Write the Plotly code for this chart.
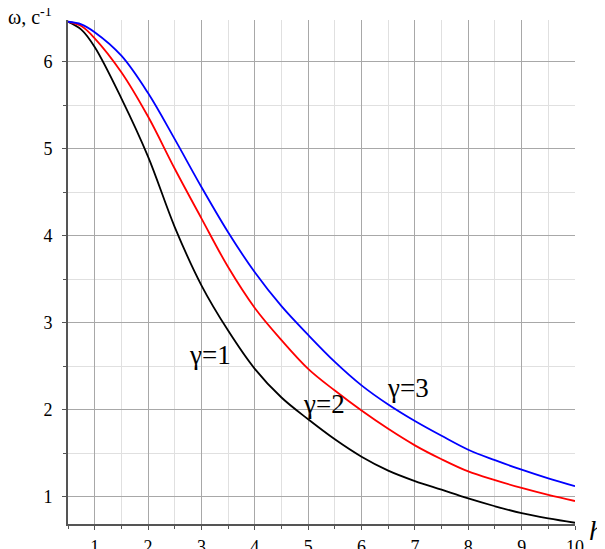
import plotly.graph_objects as go

# h values and omega for each gamma
h = [0.5, 0.75, 1.0, 1.5, 2.0, 2.5, 3.0, 3.5, 4.0, 4.5, 5.0,
     5.5, 6.0, 6.5, 7.0, 7.5, 8.0, 8.5, 9.0, 9.5, 10.0]
w_g1 = [6.46, 6.37, 6.17, 5.58, 4.91, 4.10, 3.43, 2.91, 2.47, 2.14, 1.89,
        1.66, 1.46, 1.30, 1.18, 1.08, 0.98, 0.89, 0.81, 0.75, 0.70]
w_g2 = [6.46, 6.41, 6.27, 5.88, 5.37, 4.77, 4.20, 3.64, 3.17, 2.80, 2.47,
        2.22, 1.99, 1.78, 1.59, 1.43, 1.29, 1.19, 1.10, 1.02, 0.95]
w_g3 = [6.46, 6.43, 6.34, 6.07, 5.64, 5.11, 4.56, 4.04, 3.58, 3.19, 2.86,
        2.55, 2.28, 2.06, 1.87, 1.70, 1.54, 1.42, 1.31, 1.21, 1.12]

series = [("γ=1", w_g1, "black"), ("γ=2", w_g2, "#ff0000"), ("γ=3", w_g3, "#0000ff")]
# label text and where it sits
labels = ["γ=1", "γ=2", "γ=3"]
label_x = [3.16, 5.30, 6.87]
label_y = [2.63, 2.07, 2.25]

font = "Liberation Serif"

fig = go.Figure()
for name, w, col in series:
    fig.add_trace(go.Scatter(x=h, y=w, mode="lines", name=name,
                             line=dict(color=col, width=1.8, shape="spline", smoothing=1.0)))

for t, x, y in zip(labels, label_x, label_y):
    fig.add_annotation(x=x, y=y, text=t, showarrow=False,
                       font=dict(family=font, size=27, color="black"))

# axis titles
fig.add_annotation(xref="paper", yref="paper", x=-0.122, y=1.035, xanchor="left", yanchor="top",
                   text="ω, c<sup>-1</sup>", showarrow=False,
                   font=dict(family=font, size=20, color="black"))
fig.add_annotation(xref="paper", yref="paper", x=1.042, y=-0.012, xanchor="center", yanchor="middle",
                   text="<i>h</i>", showarrow=False,
                   font=dict(family=font, size=28, color="black"))

axis_style = dict(showline=True, linecolor="#555555", linewidth=2, ticks="outside",
                  ticklen=4, tickcolor="#555555", showgrid=True, gridcolor="#a8a8a8",
                  gridwidth=1, zeroline=False, automargin=False,
                  tickfont=dict(family=font, size=18, color="black"),
                  minor=dict(dtick=0.5, showgrid=True, gridcolor="#e0e0e0", gridwidth=1,
                             ticks="outside", ticklen=3, tickcolor="#555555"))

fig.update_xaxes(range=[0.5, 10], tick0=0, dtick=1, ticklabelstandoff=1, **axis_style)
# small trailing space keeps the y labels clear of the ticks
fig.update_yaxes(range=[0.686, 6.48], tick0=0, dtick=1, ticksuffix="\u2004", **axis_style)

# page body has an 8px margin, so the figure is sized 8px smaller each way
fig.update_layout(width=597, height=541, template="none", showlegend=False,
                  plot_bgcolor="white", paper_bgcolor="white",
                  margin=dict(l=60, r=30, t=12, b=25))

fig.write_html("out.html")
